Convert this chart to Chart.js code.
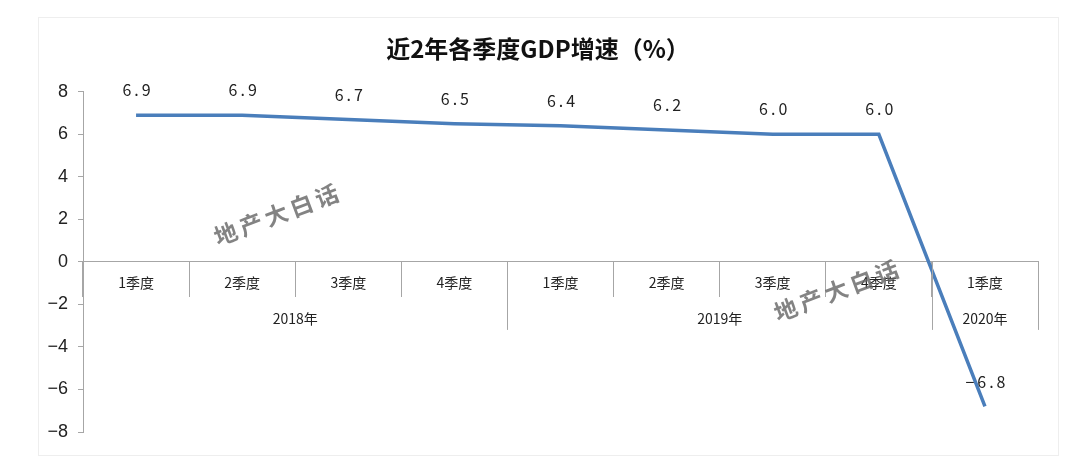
<!DOCTYPE html>
<html>
<head>
<meta charset="utf-8">
<script src="https://cdn.jsdelivr.net/npm/chart.js@4"></script>
<style>
  html, body { margin: 0; padding: 0; background: #fff; }
  #wrap { position: relative; width: 1080px; height: 474px; }
  #frame { position: absolute; left: 38px; top: 17px; width: 1019px; height: 437px; border: 1px solid #eeeeee; }
  #chart { position: absolute; left: 0; top: 0; }
</style>
</head>
<body>
<div id="wrap">
  <div id="frame"></div>
  <canvas id="chart" width="1080" height="474"></canvas>
</div>
<script>
// quarters and years
const quarters = ['1季度', '2季度', '3季度', '4季度', '1季度', '2季度', '3季度', '4季度', '1季度'];
const years = ['2018年', '2019年', '2020年'];
const yearSizes = [4, 4, 1];
const gdpGrowth = [6.9, 6.9, 6.7, 6.5, 6.4, 6.2, 6.0, 6.0, -6.8];
const yTicks = [-8, -6, -4, -2, 0, 2, 4, 6, 8];

const FONT = '"Noto Sans CJK SC", "Noto Sans", sans-serif';

// value labels above each point
const valueLabels = {
    id: 'valueLabels',
    afterDatasetsDraw(chart) {
        const ctx = chart.ctx;
        const meta = chart.getDatasetMeta(0);
        ctx.save();
        ctx.font = '16px ' + FONT;
        ctx.fillStyle = '#222';
        ctx.textAlign = 'center';
        ctx.textBaseline = 'middle';
        ctx.letterSpacing = '3px';
        meta.data.forEach((pt, i) => {
            ctx.fillText(gdpGrowth[i].toFixed(1).replace('-', '−'), pt.x + 2, pt.y - 25);
        });
        ctx.restore();
    }
};

// year groups under the quarter labels
const yearGroups = {
    id: 'yearGroups',
    afterDraw(chart) {
        const ctx = chart.ctx;
        const x = chart.scales.x;
        const y0 = chart.scales.y.getPixelForValue(0);
        const half = (x.getPixelForValue(1) - x.getPixelForValue(0)) / 2;
        ctx.save();
        ctx.strokeStyle = '#a6a6a6';
        ctx.lineWidth = 1;
        ctx.font = '14px ' + FONT;
        ctx.fillStyle = '#222';
        ctx.textAlign = 'center';
        ctx.textBaseline = 'middle';
        let start = 0;
        years.forEach((yr, g) => {
            const end = start + yearSizes[g] - 1;
            const left = x.getPixelForValue(start) - half;
            const right = x.getPixelForValue(end) + half;
            ctx.beginPath();
            ctx.moveTo(Math.round(right) + 0.5, y0);
            ctx.lineTo(Math.round(right) + 0.5, y0 + 68);
            ctx.stroke();
            ctx.fillText(yr, (left + right) / 2, y0 + 57);
            start = end + 1;
        });
        ctx.restore();
    }
};

// watermark
const watermark = {
    id: 'watermark',
    afterDraw(chart) {
        const ctx = chart.ctx;
        ctx.save();
        ctx.font = 'bold 23px ' + FONT;
        ctx.fillStyle = 'rgba(100,100,100,0.8)';
        ctx.textAlign = 'center';
        ctx.textBaseline = 'middle';
        ctx.letterSpacing = '4px';
        [[278, 214], [838, 290]].forEach(p => {
            ctx.save();
            ctx.translate(p[0], p[1]);
            ctx.rotate(-0.36);
            ctx.fillText('地产大白话', 0, 0);
            ctx.restore();
        });
        ctx.restore();
    }
};

new Chart(document.getElementById('chart'), {
    type: 'line',
    data: {
        labels: quarters,
        datasets: [{
            data: gdpGrowth,
            borderColor: '#4a7ebb',
            borderWidth: 3.5,
            pointRadius: 0,
            tension: 0,
            fill: false
        }]
    },
    options: {
        responsive: false,
        animation: false,
        layout: { padding: { left: 38, right: 42, top: 0, bottom: 42 } },
        plugins: {
            legend: { display: false },
            tooltip: { enabled: false },
            title: {
                display: true,
                text: '近2年各季度GDP增速（%）',
                color: '#111',
                font: { family: FONT, size: 24, weight: 'bold' },
                padding: { top: 34, bottom: 29 }
            }
        },
        scales: {
            x: {
                position: { y: 0 },
                offset: true,
                grid: {
                    display: true,
                    offset: true,
                    drawOnChartArea: false,
                    tickLength: 35,
                    color: '#a6a6a6'
                },
                border: { color: '#a6a6a6' },
                ticks: {
                    padding: -23,
                    maxRotation: 0,
                    color: '#222',
                    font: { family: FONT, size: 14 }
                }
            },
            y: {
                min: -8,
                max: 8,
                afterFit(scale) { scale.width = 45; },
                afterBuildTicks(scale) { scale.ticks = yTicks.map(v => ({ value: v })); },
                grid: { display: true, drawOnChartArea: false, tickLength: 5, color: '#a6a6a6' },
                border: { color: '#a6a6a6' },
                ticks: {
                    padding: 10,
                    color: '#222',
                    font: { family: '"Liberation Sans", Arial, sans-serif', size: 18 },
                    callback: v => String(v).replace('-', '−')
                }
            }
        }
    },
    plugins: [valueLabels, yearGroups, watermark]
});
</script>
</body>
</html>
